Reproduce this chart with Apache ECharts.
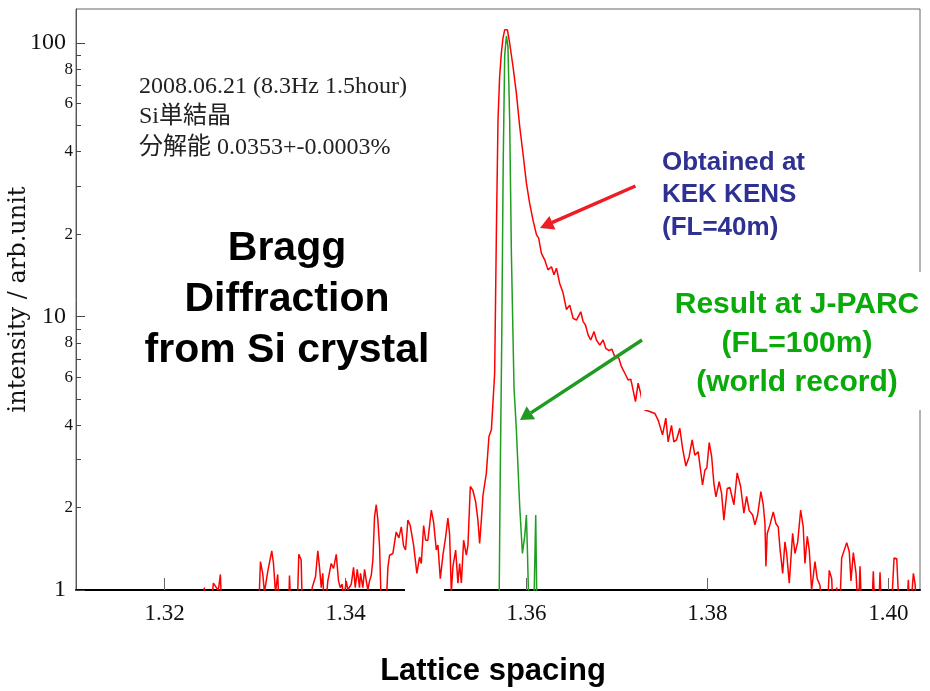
<!DOCTYPE html>
<html>
<head>
<meta charset="utf-8">
<script src="https://cdn.jsdelivr.net/npm/echarts@6/dist/echarts.min.js"></script>
<style>html,body{margin:0;padding:0;background:#fff;}#c{width:930px;height:691px;}</style>
</head>
<body>
<div id="c"></div>
<script>
// ---- data ----
const redX = [1.32417,1.32439,1.32461,1.32517,1.32539,1.32572,1.32594,1.32616,1.32633,
1.33037,1.33059,1.33084,1.33103,1.33140,1.33159,1.33184,1.33203,1.33225,1.33250,1.33269,
1.33369,1.33380,1.33399,1.33463,1.33483,1.33509,1.33524,1.33612,1.33631,1.33668,1.33693,
1.33712,1.33731,1.33748,1.33767,1.33804,1.33841,1.33867,1.33897,1.33922,1.33941,1.33963,
1.33977,1.34007,1.34025,1.34063,1.34088,1.34107,1.34129,1.34154,1.34165,1.34191,1.34210,
1.34229,1.34246,1.34265,1.34284,1.34302,1.34320,1.34339,1.34357,1.34376,1.34395,1.34450,
1.34468,1.34486,1.34523,1.34560,1.34589,1.34616,1.34641,1.34663,1.34689,1.34715,1.34752,
1.34788,1.34818,1.34837,1.34863,1.34885,1.34910,1.34948,1.34973,1.35003,1.35021,1.35047,
1.35076,1.35106,1.35131,1.35150,1.35169,1.35187,1.35217,1.35242,1.35261,1.35280,1.35305,
1.35335,1.35353,1.35379,1.35408,1.35438,1.35463,1.35482,1.35501,1.35519,1.35556,1.35585,
1.35612,1.35629,1.35648,1.35667,1.35685,1.35703,1.35722,1.35740,1.35759,1.35789,1.35814,
1.35851,1.35888,1.35925,1.35961,1.35999,1.36035,1.36072,1.36110,1.36135,1.36165,1.36201,
1.36238,1.36276,1.36304,1.36331,1.36367,1.36404,1.36442,1.36478,1.36515,1.36552,1.36600,
1.36625,1.36652,1.36681,1.36710,1.36747,1.36773,1.36810,1.36847,1.36876,1.36913,1.36943,
1.36976,1.37020,1.37050,1.37087,1.37123,1.37153,1.37178,1.37205,1.37234,1.37264,1.37286,
1.37308,1.37363,1.37419,1.37455,1.37504,1.37540,1.37566,1.37603,1.37629,1.37659,1.37695,
1.37725,1.37762,1.37798,1.37831,1.37861,1.37898,1.37946,1.37972,1.37994,1.38020,1.38047,
1.38071,1.38094,1.38130,1.38157,1.38182,1.38219,1.38248,1.38293,1.38329,1.38367,1.38403,
1.38433,1.38462,1.38500,1.38525,1.38555,1.38591,1.38617,1.38636,1.38647,1.38661,1.38691,
1.38728,1.38757,1.38783,1.38802,1.38832,1.38857,1.38876,1.38905,1.38942,1.38968,1.38998,
1.39031,1.39059,1.39078,1.39104,1.39126,1.39152,1.39189,1.39214,1.39244,1.39274,1.39322,
1.39347,1.39374,1.39391,1.39416,1.39429,1.39447,1.39466,1.39484,1.39540,1.39568,1.39587,
1.39613,1.39643,1.39668,1.39687,1.39706,1.39814,1.39834,1.39853,1.39892,1.39908,1.39927,
1.40030,1.40063,1.40093,1.40122,1.40201,1.40221,1.40240,1.40257,1.40277,1.40296,1.40314];
const redY = [0.8,1.02,0.8,0.9,1.06,1.02,1.0,1.14,0.8,
0.8,1.27,1.15,0.98,1.17,1.16,1.39,1.25,0.98,1.14,0.8,
0.8,1.13,0.8,0.8,1.35,1.29,0.8,0.8,1.02,1.12,1.39,
1.21,1.02,1.15,0.8,1.08,1.25,1.2,1.35,1.08,1.02,1.05,
0.9,1.08,1.0,1.05,1.21,1.02,1.19,1.02,1.15,1.02,1.19,
1.08,1.0,1.08,1.13,1.29,1.85,2.05,1.8,1.44,0.85,0.9,
1.21,1.34,1.36,1.63,1.55,1.70,1.45,1.40,1.80,1.72,1.46,
1.15,1.32,1.25,1.72,1.52,1.52,1.96,1.77,1.40,1.46,1.10,
1.34,1.56,1.83,1.60,0.98,1.22,1.40,1.06,1.25,1.06,1.52,
1.34,1.46,2.39,2.31,2.10,1.80,1.48,1.80,2.22,2.67,3.64,
3.85,4.82,6.2,20.2,52.3,75,91.7,104,111.6,111.6,99.7,
81.9,65.5,49.4,39.5,30.7,25.9,22.5,19.9,19.3,17.0,16.1,
14.8,15.2,14.2,15.0,13.2,12.2,10.6,11.0,9.85,9.7,10.4,
9.6,9.3,8.56,8.2,8.8,8.2,7.85,8.2,7.65,7.5,7.6,
7.13,7.05,6.55,6.2,5.86,5.9,5.39,4.88,5.7,5.2,4.7,
4.55,4.49,4.42,4.18,3.69,4.25,3.48,4.0,3.48,3.54,3.9,
3.30,2.84,3.07,3.54,3.11,3.2,2.42,2.74,2.8,3.46,3.07,
2.46,2.19,2.49,2.25,1.80,2.35,2.37,2.05,2.68,2.39,1.91,
2.2,1.95,1.88,1.73,1.88,2.29,2.05,1.75,1.22,1.61,1.73,
1.93,1.75,1.70,1.42,1.15,1.50,1.36,1.06,1.61,1.36,1.50,
1.96,1.70,1.25,1.57,1.40,1.0,1.27,1.1,1.04,0.8,0.8,
1.18,1.1,0.8,0.8,1.02,0.8,0.9,1.31,1.49,1.38,1.08,
1.37,1.15,0.8,1.22,0.8,0.8,1.17,0.8,0.8,1.16,0.8,
0.8,1.31,1.30,0.8,0.8,1.09,0.8,0.8,1.15,1.05,0.8];

const greenX = [1.35696,1.35709,1.35726,1.35742,1.35759,1.35778,1.35795,1.35814,1.35833,
1.35862,1.35888,1.35925,1.35955,1.35980,1.35999,1.36010,1.36028,1.36080,1.36102,1.36116];
const greenY = [0.8,2.5,8,35,90,106,97,52,17,5.5,3.85,2.02,1.36,1.57,1.88,1.4,0.8,0.8,1.88,0.8];

const xTickValues = [1.32,1.34,1.36,1.38,1.40];
const yLabelValues = [1,2,4,6,8,10,20,40,60,80,100];
const yMajorTicks = [1,10,100];
const yMinorTicks = [2,3,4,5,6,7,8,9,20,30,40,50,60,70,80,90];

const chart = echarts.init(document.getElementById('c'), null, {renderer:'canvas'});

function ylab(v){
  const r = Math.round(v);
  if (r===1 || r===10 || r===100) return '{big|' + r + '}';
  return '{small|' + (r >= 10 ? r/10 : r) + '}';
}

const serif = '"Liberation Serif", "Noto Sans CJK JP", serif';
function txt(t, x, y, font, fill, align, extra){
  return Object.assign({type:'text', z:101, x:x, y:y, style:{text:t, font:font, fill:fill,
    align:align||'left', textAlign:align||'left', verticalAlign:'middle', textVerticalAlign:'middle'}}, extra||{});
}

chart.setOption({
  animation:false,
  backgroundColor:'#fff',
  grid:{left:76, top:9, right:10, bottom:101, show:true, borderColor:'#666', borderWidth:1,
        containLabel:false, outerBoundsMode:'none'},
  xAxis:{
    type:'value', min:1.3102, max:1.4035,
    axisLine:{show:true, onZero:false, lineStyle:{color:'#000', width:2}},
    axisTick:{show:true, inside:true, length:12, customValues:xTickValues, lineStyle:{color:'#666'}},
    axisLabel:{customValues:xTickValues, formatter:v=>v.toFixed(2), fontFamily:'Liberation Serif', fontSize:23, color:'#111', margin:12},
    splitLine:{show:false},
    name:'Lattice spacing', nameLocation:'middle', nameGap:66, nameMoveOverlap:false,
    nameTextStyle:{fontFamily:'Liberation Sans', fontWeight:'bold', fontSize:31, color:'#000', padding:[0,10,0,0]}
  },
  yAxis:[{
    type:'log', logBase:10, min:1, max:133, position:'left',
    axisLine:{show:true, onZero:false, lineStyle:{color:'#555', width:1}},
    axisTick:{show:true, inside:true, length:9, customValues:yMajorTicks, lineStyle:{color:'#444'}},
    axisLabel:{customValues:yLabelValues, formatter:ylab, margin:3, color:'#111',
      rich:{big:{fontFamily:'Liberation Serif', fontSize:24, color:'#111', padding:[0,7,0,0]},
            small:{fontFamily:'Liberation Serif', fontSize:17, color:'#111'}}},
    splitLine:{show:false}, minorTick:{show:false},
    name:'intensity / arb.unit', nameLocation:'middle', nameRotate:90, nameGap:45, nameMoveOverlap:false,
    nameTextStyle:{fontFamily:'DejaVu Serif', fontSize:24, color:'#111'}
  },{
    type:'log', logBase:10, min:1, max:133, position:'left', offset:0,
    axisLine:{show:false},
    axisTick:{show:true, inside:true, length:5, customValues:yMinorTicks, lineStyle:{color:'#444'}},
    axisLabel:{show:false}, splitLine:{show:false}
  }],
  series:[{
    type:'line', name:'KEK KENS', xAxisIndex:0, yAxisIndex:0, clip:true, z:2,
    data:redX.map((x,i)=>[x, redY[i]]), showSymbol:false, symbol:'none',
    lineStyle:{color:'#ff0000', width:1.5}, itemStyle:{color:'#ff0000'}
  },{
    type:'line', name:'J-PARC', xAxisIndex:0, yAxisIndex:0, clip:true, z:3,
    data:greenX.map((x,i)=>[x, greenY[i]]), showSymbol:false, symbol:'none',
    lineStyle:{color:'#1f9e1f', width:1.5}, itemStyle:{color:'#1f9e1f'}
  }],
  graphic:[
    {type:'rect', z:100, shape:{x:641, y:272, width:290, height:138}, style:{fill:'#fff'}},
    {type:'rect', z:100, shape:{x:405, y:587, width:39, height:6}, style:{fill:'#fff'}},
    txt('2008.06.21 (8.3Hz 1.5hour)', 139, 87, '24px ' + serif, '#222'),
    txt('Si単結晶', 139, 117, '24px ' + serif, '#222'),
    txt('分解能 0.0353+-0.0003%', 139, 148, '24px ' + serif, '#222'),
    {type:'text', z:101, x:287, y:300, style:{text:'Bragg\nDiffraction\nfrom Si crystal',
      font:'bold 41px "Liberation Sans", Arial, sans-serif', fill:'#000', lineHeight:51,
      align:'center', textAlign:'center', verticalAlign:'middle', textVerticalAlign:'middle'}},
    {type:'text', z:101, x:662, y:195, style:{text:'Obtained at\nKEK KENS\n(FL=40m)',
      font:'bold 26px "Liberation Sans", Arial, sans-serif', fill:'#2f3192', lineHeight:32.5,
      align:'left', textAlign:'left', verticalAlign:'middle', textVerticalAlign:'middle'}},
    {type:'text', z:101, x:797, y:344, style:{text:'Result at J-PARC\n(FL=100m)\n(world record)',
      font:'bold 30px "Liberation Sans", Arial, sans-serif', fill:'#0aaa0a', lineHeight:39,
      align:'center', textAlign:'center', verticalAlign:'middle', textVerticalAlign:'middle'}},
    {type:'line', z:102, shape:{x1:635.5, y1:186, x2:551.9, y2:222.7}, style:{stroke:'#ee1c24', lineWidth:3.5}},
    {type:'polygon', z:102, shape:{points:[[540,228],[555.4,229.6],[549.4,215.9]]}, style:{fill:'#ee1c24'}},
    {type:'line', z:102, shape:{x1:642, y1:340, x2:530.9, y2:412.9}, style:{stroke:'#1f9a22', lineWidth:3.5}},
    {type:'polygon', z:102, shape:{points:[[520,420],[535.2,419.2],[526.6,406.2]]}, style:{fill:'#1f9a22'}}
  ]
});
</script>
</body>
</html>
